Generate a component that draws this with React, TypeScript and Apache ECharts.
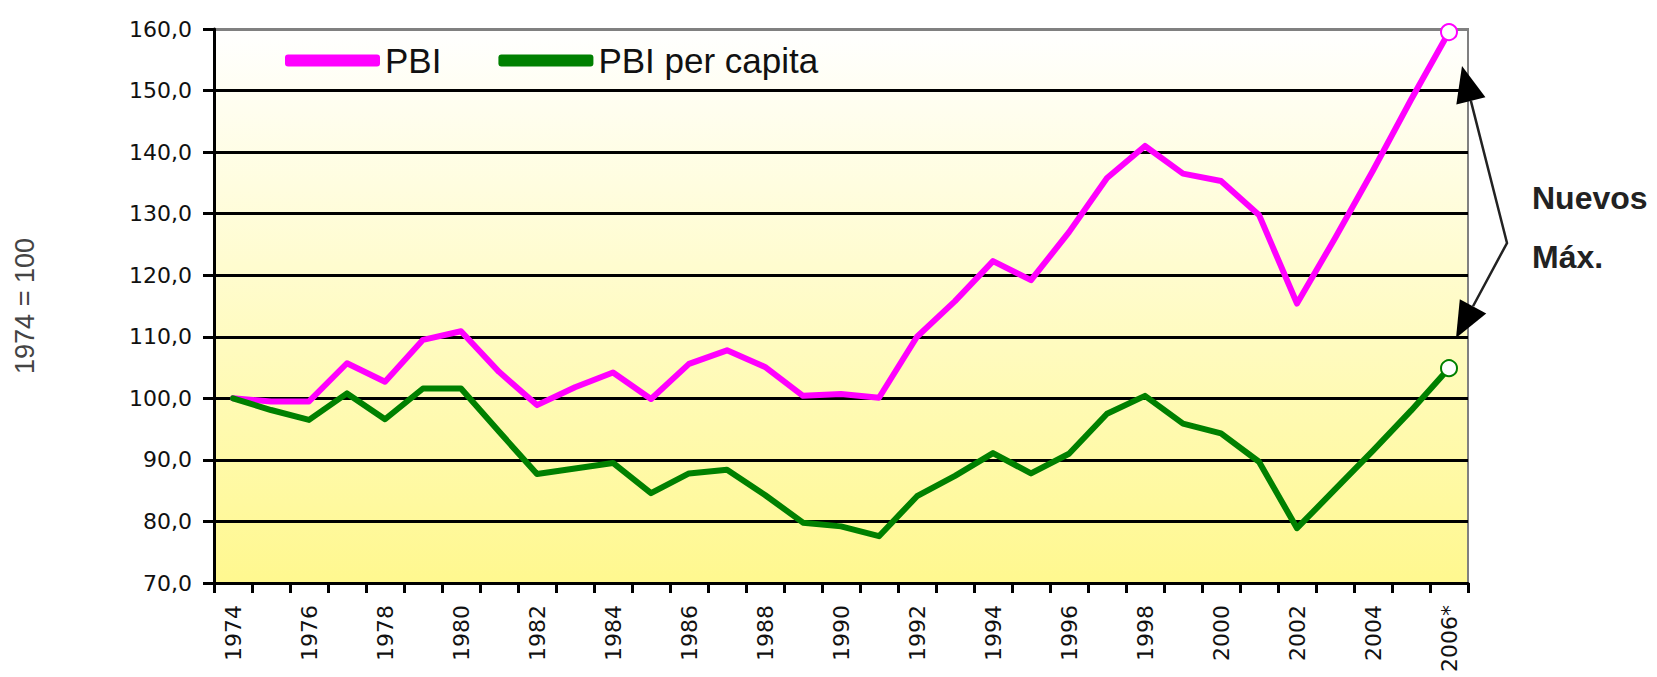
import React, { useEffect, useRef } from 'react';
import * as echarts from 'echarts';

const years = [
  '1974', '1975', '1976', '1977', '1978', '1979', '1980', '1981', '1982', '1983', '1984',
  '1985', '1986', '1987', '1988', '1989', '1990', '1991', '1992', '1993', '1994', '1995',
  '1996', '1997', '1998', '1999', '2000', '2001', '2002', '2003', '2004', '2005', '2006*',
];

const pbi = [
  100.0, 99.5, 99.5, 105.7, 102.7, 109.5, 110.9, 104.3, 98.9, 101.8, 104.2,
  99.9, 105.6, 107.8, 105.1, 100.4, 100.7, 100.1, 110.0, 115.8, 122.3, 119.2,
  127.0, 135.8, 141.0, 136.5, 135.3, 129.8, 115.4, 126.0, 137.0, 148.5, 159.5,
];

const pbiPerCapita = [
  100.0, 98.1, 96.5, 100.8, 96.6, 101.6, 101.6, 94.6, 87.7, 88.6, 89.5,
  84.6, 87.8, 88.4, 84.3, 79.8, 79.2, 77.6, 84.1, 87.4, 91.1, 87.8,
  91.0, 97.5, 100.4, 95.9, 94.3, 89.7, 78.9, 85.2, 91.5, 98.0, 104.9,
];

const seriesNames = ['PBI', 'PBI per capita'];
const yAxisTitle = '1974 = 100';
const noteLines = ['Nuevos', 'Máx.'];

const Y_MIN = 70;
const Y_MAX = 160;
const Y_STEP = 10;

const PINK = '#FF00FF';
const GREEN = '#008000';

function withEndMarker(values: number[], color: string) {
  return values.map((v, i) =>
    i === values.length - 1
      ? {
          value: v,
          symbolSize: 16,
          itemStyle: { color: '#ffffff', borderColor: color, borderWidth: 2 },
        }
      : v
  );
}

function arrowHead(tip: [number, number], from: [number, number], len: number, half: number) {
  const dx = tip[0] - from[0];
  const dy = tip[1] - from[1];
  const d = Math.sqrt(dx * dx + dy * dy);
  const ux = dx / d;
  const uy = dy / d;
  const mx = tip[0] - ux * len;
  const my = tip[1] - uy * len;
  const px = -uy;
  const py = ux;
  return {
    base: [mx, my] as [number, number],
    points: [
      [tip[0], tip[1]],
      [mx + px * half, my + py * half],
      [mx - px * half, my - py * half],
    ],
  };
}

export default function App() {
  const ref = useRef<HTMLDivElement>(null);

  useEffect(() => {
    const chart = echarts.init(ref.current!, null, { renderer: 'svg' });

    const splitCount = Math.round((Y_MAX - Y_MIN) / Y_STEP) + 1;
    const splitColors: string[] = [];
    for (let i = 0; i < splitCount; i++) splitColors.push(i === splitCount - 1 ? '#808080' : '#000000');

    const elbow: [number, number] = [1507, 243];
    const up = arrowHead([1462, 66], elbow, 36, 15);
    const down = arrowHead([1456, 338], elbow, 36, 15);

    const option: any = {
      animation: false,
      backgroundColor: '#ffffff',
      grid: {
        left: 214,
        top: 29,
        right: 189,
        bottom: 94,
        show: true,
        borderColor: '#808080',
        borderWidth: 2,
        backgroundColor: new echarts.graphic.LinearGradient(0, 0, 0, 1, [
          { offset: 0, color: '#FFFFFF' },
          { offset: 1, color: '#FFF88F' },
        ]),
      },
      legend: {
        left: 285,
        top: 43,
        padding: 0,
        itemWidth: 95,
        itemHeight: 12,
        itemGap: 57,
        icon: 'roundRect',
        data: seriesNames,
        textStyle: { fontSize: 35, fontFamily: 'Liberation Sans', color: '#111111' },
      },
      xAxis: {
        type: 'category',
        data: years,
        boundaryGap: true,
        axisLine: { show: true, lineStyle: { color: '#000000', width: 3 } },
        axisTick: { show: true, interval: 0, length: 10, lineStyle: { color: '#000000', width: 3 } },
        axisLabel: {
          interval: 1,
          rotate: 90,
          margin: 22,
          fontSize: 22,
          fontFamily: 'DejaVu Sans',
          color: '#111111',
        },
        splitLine: { show: false },
      },
      yAxis: {
        type: 'value',
        min: Y_MIN,
        max: Y_MAX,
        interval: Y_STEP,
        name: yAxisTitle,
        nameLocation: 'middle',
        nameGap: 176,
        nameTextStyle: { fontSize: 27, fontFamily: 'Liberation Sans', color: '#444444' },
        axisLine: { show: true, lineStyle: { color: '#000000', width: 3 } },
        axisTick: { show: true, length: 11, lineStyle: { color: '#000000', width: 3 } },
        axisLabel: {
          margin: 22,
          fontSize: 22,
          fontFamily: 'DejaVu Sans',
          color: '#111111',
          formatter: (v: number) => v.toFixed(1).replace('.', ','),
        },
        splitLine: { show: true, lineStyle: { color: splitColors, width: 3 } },
      },
      series: [
        {
          name: seriesNames[0],
          type: 'line',
          data: withEndMarker(pbi, PINK),
          symbol: 'circle',
          symbolSize: 0,
          showSymbol: true,
          showAllSymbol: true,
          lineStyle: { color: PINK, width: 6, join: 'round', cap: 'round' },
          itemStyle: { color: PINK },
          z: 3,
        },
        {
          name: seriesNames[1],
          type: 'line',
          data: withEndMarker(pbiPerCapita, GREEN),
          symbol: 'circle',
          symbolSize: 0,
          showSymbol: true,
          showAllSymbol: true,
          lineStyle: { color: GREEN, width: 6, join: 'round', cap: 'round' },
          itemStyle: { color: GREEN },
          z: 3,
        },
      ],
      graphic: [
        {
          type: 'polyline',
          shape: { points: [up.base, elbow, down.base] },
          style: { stroke: '#222222', lineWidth: 2.5, fill: null },
          z: 10,
        },
        {
          type: 'polygon',
          shape: { points: up.points },
          style: { fill: '#000000' },
          z: 10,
        },
        {
          type: 'polygon',
          shape: { points: down.points },
          style: { fill: '#000000' },
          z: 10,
        },
        {
          type: 'text',
          x: 1532,
          y: 198,
          style: {
            text: noteLines[0],
            font: 'bold 32px "Liberation Sans"',
            fill: '#222222',
            textAlign: 'left',
            textVerticalAlign: 'middle',
          },
          z: 10,
        },
        {
          type: 'text',
          x: 1532,
          y: 257,
          style: {
            text: noteLines[1],
            font: 'bold 32px "Liberation Sans"',
            fill: '#222222',
            textAlign: 'left',
            textVerticalAlign: 'middle',
          },
          z: 10,
        },
      ],
    };

    chart.setOption(option);
    return () => chart.dispose();
  }, []);

  return (
    <div
      ref={ref}
      style={{ position: 'absolute', left: 0, top: 0, width: 1657, height: 677, background: '#ffffff' }}
    />
  );
}
